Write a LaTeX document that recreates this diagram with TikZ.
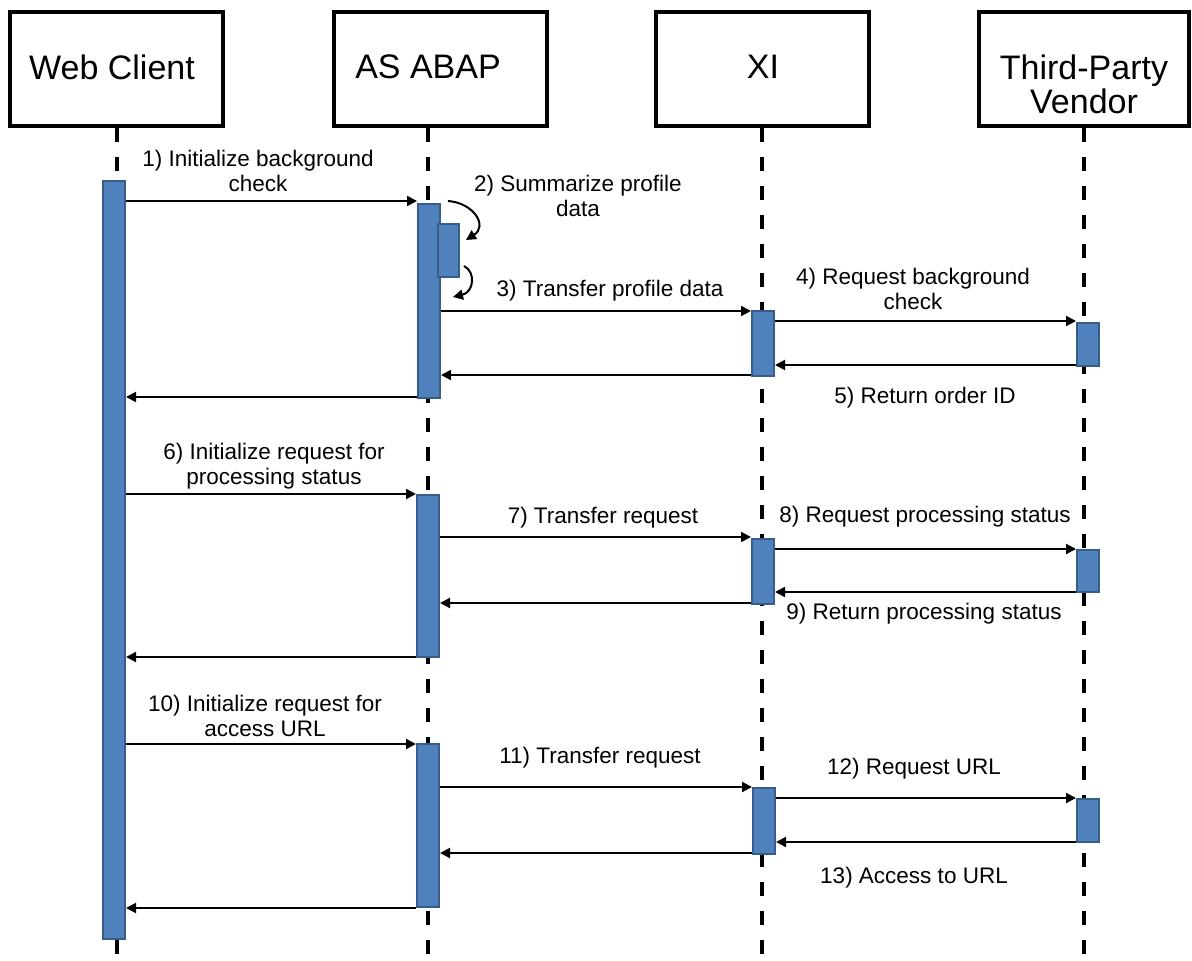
\documentclass[tikz,border=0pt]{standalone}
\usepackage{fontspec}
\setmainfont{Liberation Sans}
\usepackage{tikz}
\usetikzlibrary{arrows.meta, positioning}

\definecolor{barblue}{HTML}{4F81BD}
\definecolor{bardark}{HTML}{385D8A}

\begin{document}
\begin{tikzpicture}[
    x=0.5pt, y=-0.5pt,
    actor/.style={draw, line width=2pt, minimum width=106.5pt, minimum height=57pt, inner sep=0pt},
    actorname/.style={font=\fontsize{17}{17}\selectfont, align=center, inner sep=0pt},
    lifeline/.style={line width=2pt, dash pattern=on 7pt off 7.5pt},
    bar/.style={draw=bardark, fill=barblue, line width=1pt, minimum width=11pt, inner sep=0pt},
    msg/.style={line width=1pt, -{Triangle[length=5pt, width=5pt]}},
    msglabel/.style={font=\fontsize{11.25}{12.5}\selectfont, align=center, inner sep=0pt},
]
\useasboundingbox (0,0) rectangle (1192,961);
\node[actor] (web) at (116.5,69) {};
\node[actor] (abap) at (440,69) {};
\node[actor] (xi) at (762,69) {};
\node[actor, minimum width=105pt] (vendor) at (1084,69) {};
\node[actorname] (webname) at (112,67) {Web Client};
\node[actorname] (abapname) at (428,67) {AS ABAP};
\node[actorname] (xiname) at (763,67) {XI};
\node[actorname] (vendorname) at (1084,84) {Third-Party\\Vendor};
\coordinate (webend) at (117,961);
\coordinate (abapend) at (428,961);
\coordinate (xiend) at (762,961);
\coordinate (vendorend) at (1084,961);
\draw[lifeline] (webend |- web.south) -- (webend);
\draw[lifeline] (abapend |- abap.south) -- (abapend);
\draw[lifeline] (xiend |- xi.south) -- (xiend);
\draw[lifeline] (vendorend |- vendor.south) -- (vendorend);
\node[bar, minimum height=379pt] (webbar) at (114,560) {};
\node[bar, minimum height=97pt] (abapbar1) at (429,301) {};
\node[bar, minimum width=10.5pt, minimum height=26.5pt] (abapsub) at (448.5,250.5) {};
\node[bar, minimum height=32.5pt] (xibar1) at (763,343.5) {};
\node[bar, minimum height=21.5pt] (vendorbar1) at (1088,344.5) {};
\node[bar, minimum height=81pt] (abapbar2) at (428,576) {};
\node[bar, minimum height=32.5pt] (xibar2) at (763,571.5) {};
\node[bar, minimum height=21pt] (vendorbar2) at (1088,571) {};
\node[bar, minimum height=81.5pt] (abapbar3) at (428,825.5) {};
\node[bar, minimum height=33pt] (xibar3) at (764,821) {};
\node[bar, minimum height=21.5pt] (vendorbar3) at (1088,820.5) {};
\coordinate (m1) at (0,201);
\coordinate (m3) at (0,311);
\coordinate (m4) at (0,321);
\coordinate (m5) at (0,365);
\coordinate (r5) at (0,375);
\coordinate (q5) at (0,397);
\coordinate (m6) at (0,494);
\coordinate (m7) at (0,537);
\coordinate (m8) at (0,549);
\coordinate (m9) at (0,592);
\coordinate (r9) at (0,603);
\coordinate (q9) at (0,657);
\coordinate (m10) at (0,744);
\coordinate (m11) at (0,787);
\coordinate (m12) at (0,798);
\coordinate (m13) at (0,842);
\coordinate (r13) at (0,853);
\coordinate (q13) at (0,908);
\coordinate (self1a) at (448,201);
\coordinate (self1b) at (466,240);
\coordinate (self2a) at (464,266);
\coordinate (self2b) at (453,297);
\draw[msg] (webbar.east |- m1) -- (abapbar1.west |- m1);
\draw[msg] (self1a) .. controls (474,203) and (488,226) .. (self1b);
\draw[msg] (self2a) .. controls (476,272) and (474,292) .. (self2b);
\draw[msg] (abapbar1.east |- m3) -- (xibar1.west |- m3);
\draw[msg] (xibar1.east |- m4) -- (vendorbar1.west |- m4);
\draw[msg] (vendorbar1.west |- m5) -- (xibar1.east |- m5);
\draw[msg] (xibar1.west |- r5) -- (abapbar1.east |- r5);
\draw[msg] (abapbar1.west |- q5) -- (webbar.east |- q5);
\draw[msg] (webbar.east |- m6) -- (abapbar2.west |- m6);
\draw[msg] (abapbar2.east |- m7) -- (xibar2.west |- m7);
\draw[msg] (xibar2.east |- m8) -- (vendorbar2.west |- m8);
\draw[msg] (vendorbar2.west |- m9) -- (xibar2.east |- m9);
\draw[msg] (xibar2.west |- r9) -- (abapbar2.east |- r9);
\draw[msg] (abapbar2.west |- q9) -- (webbar.east |- q9);
\draw[msg] (webbar.east |- m10) -- (abapbar3.west |- m10);
\draw[msg] (abapbar3.east |- m11) -- (xibar3.west |- m11);
\draw[msg] (xibar3.east |- m12) -- (vendorbar3.west |- m12);
\draw[msg] (vendorbar3.west |- m13) -- (xibar3.east |- m13);
\draw[msg] (xibar3.west |- r13) -- (abapbar3.east |- r13);
\draw[msg] (abapbar3.west |- q13) -- (webbar.east |- q13);
\node[msglabel] (lab1) at (258,171) {1) Initialize background\\check};
\node[msglabel] (lab2) at (578,196) {2) Summarize profile\\data};
\node[msglabel] (lab3) at (610,291) {3) Transfer profile data};
\node[msglabel] (lab4) at (913,289) {4) Request background\\check};
\node[msglabel] (lab5) at (925,398) {5) Return order ID};
\node[msglabel] (lab6) at (274,466) {6) Initialize request for\\processing status};
\node[msglabel] (lab7) at (603,518) {7) Transfer request};
\node[msglabel] (lab8) at (925,517) {8) Request processing status};
\node[msglabel] (lab9) at (924,614) {9) Return processing status};
\node[msglabel] (lab10) at (265,716) {10) Initialize request for\\access URL};
\node[msglabel] (lab11) at (600,758) {11) Transfer request};
\node[msglabel] (lab12) at (914,769) {12) Request URL};
\node[msglabel] (lab13) at (914,878) {13) Access to URL};
\end{tikzpicture}
\end{document}
